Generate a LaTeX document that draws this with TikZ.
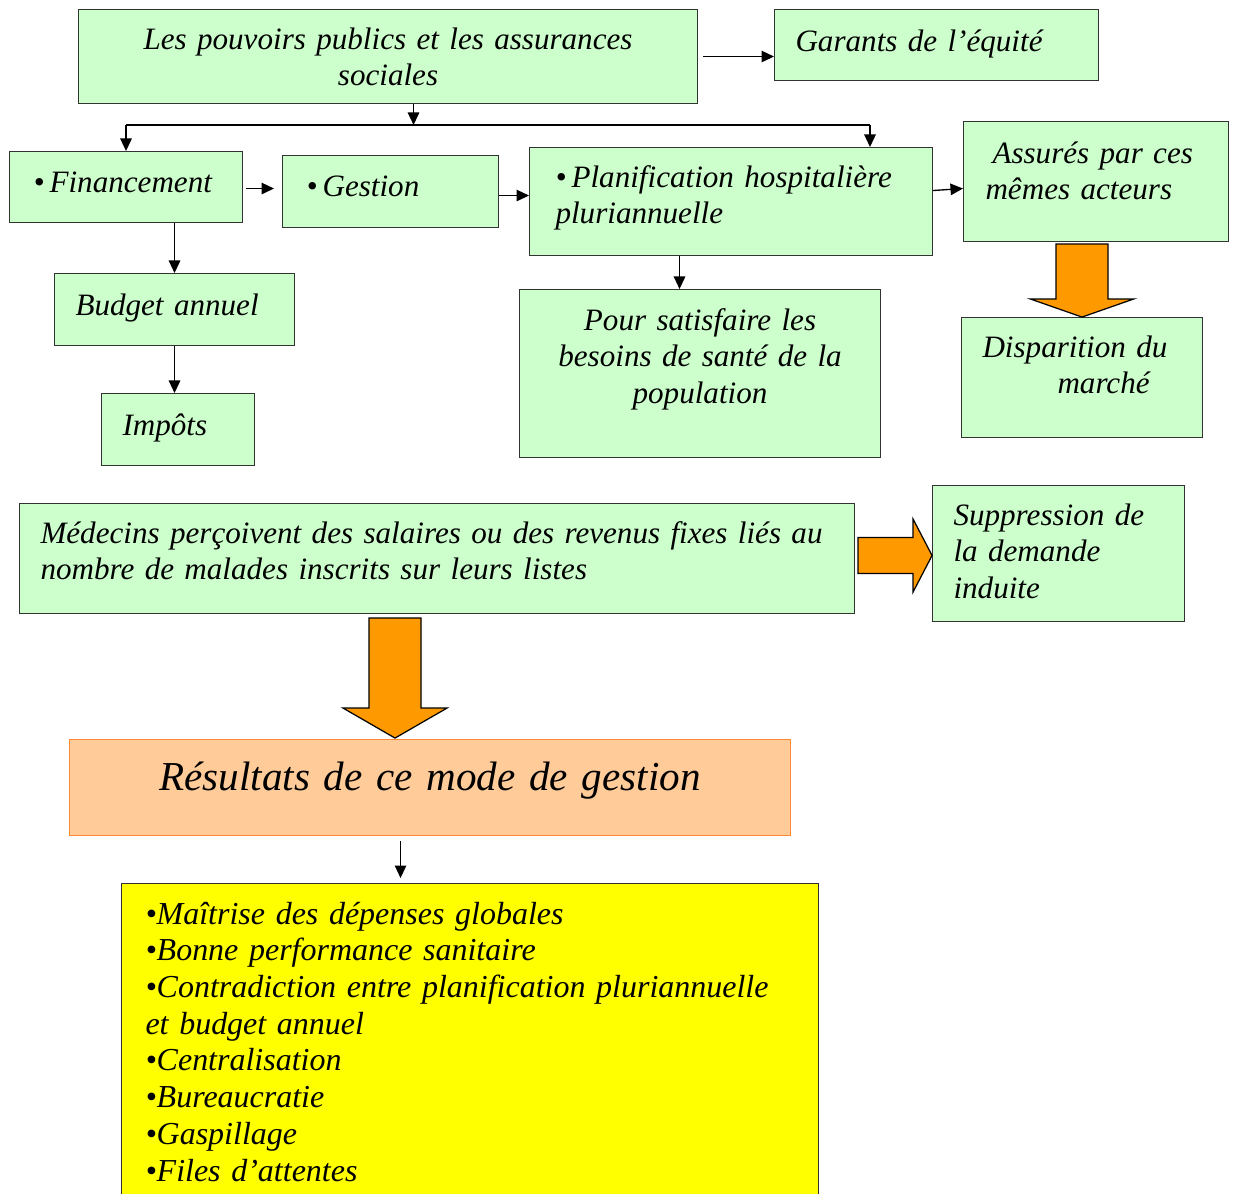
\documentclass[tikz,border=0pt]{standalone}
\usepackage{fontspec}
\setmainfont{Liberation Serif}
\usetikzlibrary{arrows.meta}
\definecolor{boxgreen}{RGB}{204,255,204}
\definecolor{peach}{RGB}{255,204,153}
\definecolor{peachline}{RGB}{255,136,51}
\definecolor{fatorange}{RGB}{255,153,0}
\definecolor{brightyellow}{RGB}{255,255,0}
\tikzset{
    greennode/.style={rectangle, draw=black!80, fill=boxgreen, line width=0.6pt, anchor=north west, inner ysep=0pt, align=left, font=\fontsize{17.7}{21}\selectfont\itshape},
    orangenode/.style={greennode, draw=peachline, fill=peach, align=center, font=\fontsize{23.4}{28}\selectfont\itshape},
    yellownode/.style={greennode, fill=brightyellow, font=\fontsize{18.2}{20.9}\selectfont\itshape},
    myarrow/.style={-{Triangle[length=0.25cm, width=0.23cm]}, line width=0.75pt},
    mybus/.style={line width=0.75pt},
    bigarrow/.style={draw=black, fill=fatorange, line width=0.7pt, line join=miter}
}
\begin{document}
\begin{tikzpicture}
    \useasboundingbox (0,0) rectangle (24.68,-23.88);

        % ------------------
        % nodes
        % ------------------

        \node[greennode, align=center, inner xsep=0.2cm, text width=11.98cm, text height=0.79cm, text depth=1.09cm] (pouv) at (1.56,-0.18) {Les pouvoirs publics et les assurances\\ sociales};
        \node[greennode, inner xsep=0.42cm, text width=5.64cm, text height=0.83cm, text depth=0.59cm] (garants) at (15.48,-0.18) {Garants de l’équité};

        \node[greennode, inner xsep=0.48cm, text width=3.70cm, text height=0.81cm, text depth=0.61cm] (fin) at (0.18,-3.02) {\textbullet\,Financement};
        \node[greennode, inner xsep=0.48cm, text width=3.36cm, text height=0.81cm, text depth=0.63cm] (gest) at (5.64,-3.10) {\textbullet\,Gestion};
        \node[greennode, inner xsep=0.52cm, text width=7.02cm, text height=0.79cm, text depth=1.37cm] (plan) at (10.58,-2.94) {\textbullet\,Planification hospitalière\\ pluriannuelle};
        \node[greennode, inner xsep=0.44cm, text width=4.42cm, text height=0.83cm, text depth=1.57cm] (assur) at (19.26,-2.42) {\hspace*{0.14cm}Assurés par ces\\ mêmes acteurs};

        \node[greennode, inner xsep=0.42cm, text width=3.96cm, text height=0.83cm, text depth=0.61cm] (budget) at (1.08,-5.46) {Budget annuel};
        \node[greennode, inner xsep=0.42cm, text width=2.22cm, text height=0.83cm, text depth=0.61cm] (impots) at (2.02,-7.86) {Impôts};
        \node[greennode, align=center, inner xsep=0.2cm, text width=6.82cm, text height=0.81cm, text depth=2.55cm] (satisf) at (10.38,-5.78) {Pour satisfaire les\\ besoins de santé de la\\ population};
        \node[greennode, inner xsep=0.42cm, text width=3.98cm, text height=0.79cm, text depth=1.61cm] (dispar) at (19.22,-6.34) {Disparition du\\ \hspace*{1.5cm}marché};

        \node[greennode, inner xsep=0.42cm, text width=15.86cm, text height=0.79cm, text depth=1.41cm] (medecins) at (0.38,-10.06) {Médecins perçoivent des salaires ou des revenus fixes liés au\\ nombre de malades inscrits sur leurs listes};
        \node[greennode, inner xsep=0.42cm, text width=4.20cm, text height=0.79cm, text depth=1.93cm] (suppress) at (18.64,-9.70) {Suppression de\\ la demande\\ induite};

        \node[orangenode, inner xsep=0.2cm, text width=14.02cm, text height=1.02cm, text depth=0.90cm] (result) at (1.38,-14.78) {Résultats de ce mode de gestion};
        \node[yellownode, inner xsep=0.48cm, text width=12.98cm, text height=0.81cm, text depth=5.53cm] (effets) at (2.42,-17.66) {\textbullet Maîtrise des dépenses globales\\ \textbullet Bonne performance sanitaire\\ \textbullet Contradiction entre planification pluriannuelle\\ et budget annuel\\ \textbullet Centralisation\\ \textbullet Bureaucratie\\ \textbullet Gaspillage\\ \textbullet Files d’attentes};

        % ------------------
        % arrows
        % ------------------

        \coordinate (busY) at (0,-2.5);
        \coordinate (busR) at (17.4,-2.5);
        \coordinate (stem) at ([xshift=0.51cm]pouv.south);

        \draw[myarrow, shorten <=0.1cm] (pouv.east) -- (pouv.east -| garants.west);
        \draw[myarrow] (stem) -- (stem |- busY);
        \draw[mybus] (fin.north |- busY) -- (busR);
        \draw[myarrow] (fin.north |- busY) -- (fin.north);
        \draw[myarrow] (busR) -- (busR |- plan.north);

        \draw[myarrow, shorten <=0.06cm, shorten >=0.16cm] ([yshift=-0.03cm]fin.east) -- ([yshift=-0.03cm]fin.east -| gest.west);
        \draw[myarrow] ([yshift=-0.08cm]gest.east) -- ([yshift=-0.08cm]gest.east -| plan.west);
        \draw[myarrow] ([yshift=0.22cm]plan.east) -- ([yshift=-0.14cm]assur.west);

        \draw[myarrow] (budget.north |- fin.south) -- (budget.north);
        \draw[myarrow] (budget.south) -- (budget.south |- impots.north);
        \coordinate (planfoot) at ([xshift=-1.03cm]plan.south);
        \draw[myarrow] (planfoot) -- (planfoot |- satisf.north);

        \coordinate (resfoot) at ([xshift=-0.59cm]result.south);
        \draw[myarrow, shorten <=0.1cm, shorten >=0.1cm] (resfoot) -- (resfoot |- effets.north);

        % fat arrows
        \coordinate (fa1) at (dispar.north |- assur.south);
        \draw[bigarrow] ([xshift=-0.52cm, yshift=-0.04cm]fa1) -- ++(0,-1.1) -- ++(-0.51,0) -- ++(1.03,-0.36) -- ++(1.03,0.36) -- ++(-0.51,0) -- ++(0,1.1) -- cycle;

        \coordinate (fa2) at ([xshift=0.06cm, yshift=0.06cm]medecins.east);
        \draw[bigarrow] ([yshift=0.36cm]fa2) -- ++(1.1,0) -- ++(0,0.37) -- ++(0.38,-0.73) -- ++(-0.38,-0.73) -- ++(0,0.37) -- ++(-1.1,0) -- cycle;

        \coordinate (fa3) at ([xshift=-0.84cm, yshift=-0.08cm]medecins.south);
        \draw[bigarrow] ([xshift=-0.52cm]fa3) -- ++(0,-1.8) -- ++(-0.52,0) -- ++(1.04,-0.6) -- ++(1.04,0.6) -- ++(-0.52,0) -- ++(0,1.8) -- cycle;

\end{tikzpicture}
\end{document}
